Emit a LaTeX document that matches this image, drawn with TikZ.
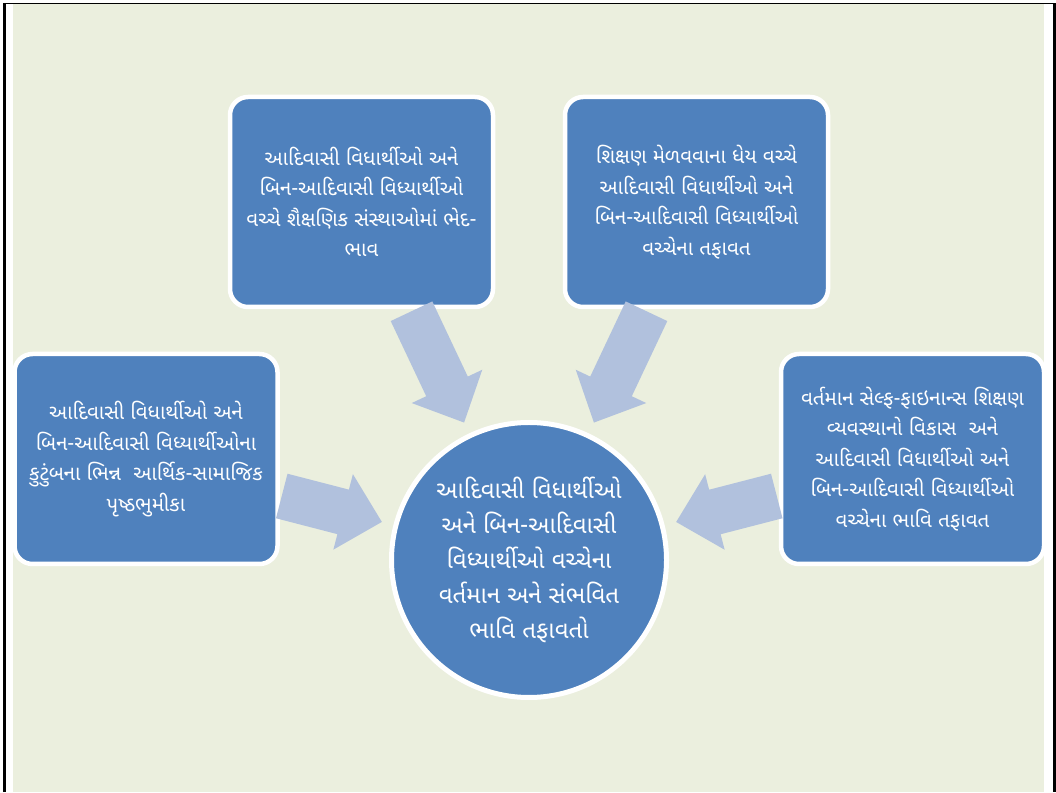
\documentclass[tikz,border=0pt]{standalone}
\usepackage{fontspec}
\newfontfamily\gujfont[Script=Gujarati]{Noto Sans Gujarati UI}
\usetikzlibrary{positioning,calc}

\definecolor{pagegreen}{RGB}{235,239,222}
\definecolor{boxblue}{RGB}{79,129,189}
\definecolor{arrowblue}{RGB}{177,193,221}

\tikzset{
  topic/.style={rectangle,rounded corners=18pt,fill=boxblue,draw=white,line width=4.5pt,
    minimum width=263pt,minimum height=210pt,text=white,align=center,
    font=\gujfont\fontsize{20.5}{30.5}\selectfont},
  hub/.style={circle,fill=boxblue,draw=white,line width=5pt,minimum size=275pt,
    text=white,align=center,font=\gujfont\fontsize{24}{35}\selectfont}
}

\newcommand{\blockarrow}[2]{%
  \coordinate (hd) at ($(#2)!40pt!(#1)$);
  \fill[arrowblue] ($(#1)!23pt!90:(#2)$) -- ($(hd)!23pt!-90:(#1)$)
    -- ($(hd)!39pt!-90:(#1)$) -- (#2) -- ($(hd)!39pt!90:(#1)$)
    -- ($(hd)!23pt!90:(#1)$) -- ($(#1)!23pt!-90:(#2)$) -- cycle;}

\begin{document}
\begin{tikzpicture}[x=1pt,y=1pt,node distance=1pt,on grid]
\useasboundingbox (0,0) rectangle (1056,792);
\fill[white] (0,0) rectangle (1056,792);
\fill[pagegreen] (13,0) rectangle (1044,787.7);
\draw[line width=3pt] (4.5,0) -- (4.5,788.5);
\draw[line width=1.5pt] (3,788.5) -- (1056,788.5);
\draw[line width=3pt] (1054.5,788.5) -- (1054.5,0);

\node[hub] (hub) at (529,232) {આદિવાસી વિધાર્થીઓ\\અને બિન-આદિવાસી\\વિધ્યાર્થીઓ વચ્ચેના\\વર્તમાન અને સંભવિત\\ભાવિ તફાવતો};
\node[topic] (tl) [above left=358 and 167.5 of hub] {આદિવાસી વિધાર્થીઓ અને\\બિન-આદિવાસી વિધ્યાર્થીઓ\\વચ્ચે શૈક્ષણિક સંસ્થાઓમાં ભેદ-\\ભાવ};
\node[topic] (tr) [above right=358 and 167.5 of hub] {શિક્ષણ મેળવવાના ધેય વચ્ચે\\આદિવાસી વિધાર્થીઓ અને\\બિન-આદિવાસી વિધ્યાર્થીઓ\\વચ્ચેના તફાવત};
\node[topic] (lb) [above left=101 and 383 of hub] {આદિવાસી વિધાર્થીઓ અને\\બિન-આદિવાસી વિધ્યાર્થીઓના\\કુટુંબના ભિન્ન \ આર્થિક-સામાજિક\\પૃષ્ઠભુમીકા};
\node[topic] (rb) [above right=101 and 383.5 of hub] {વર્તમાન સેલ્ફ-ફાઇનાન્સ શિક્ષણ\\વ્યવસ્થાનો વિકાસ \ અને\\આદિવાસી વિધાર્થીઓ અને\\બિન-આદિવાસી વિધ્યાર્થીઓ\\વચ્ચેના ભાવિ તફાવત};

%% arrows into the hub
\coordinate (t1) at ($(tl.south)+(50,-2)$);
\coordinate (t2) at ($(tr.south)+(-50,-2)$);
\coordinate (t3) at ($(lb.east)+(2,-37)$);
\coordinate (t4) at ($(rb.west)+(-2,-37)$);
\blockarrow{t1}{$(hub)!152pt!(t1)$}
\blockarrow{t2}{$(hub)!152pt!(t2)$}
\blockarrow{t3}{$(hub)!152pt!(t3)$}
\blockarrow{t4}{$(hub)!152pt!(t4)$}
\end{tikzpicture}
\end{document}
